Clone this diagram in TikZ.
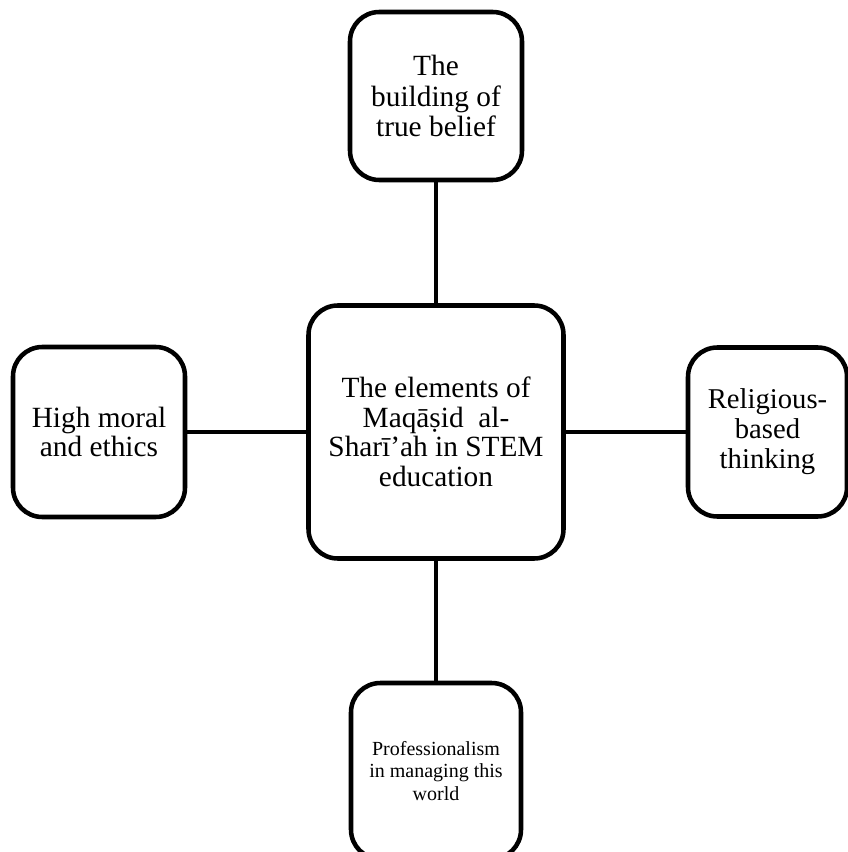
\documentclass[tikz,border=0pt]{standalone}
\usepackage{fontspec}
\setmainfont{Liberation Serif}
\usetikzlibrary{positioning}

\begin{document}
\begin{tikzpicture}[x=0.75pt, y=-0.75pt,
  box/.style={draw, line width=3.4pt, rounded corners=22pt, align=center, inner sep=0pt, fill=white},
  link/.style={line width=3.2pt},
  big/.style={font=\fontsize{22}{22.2}\selectfont}]
% canvas
\path[fill=white, use as bounding box] (0,0) rectangle (848,852);
% centre element
\node[box, big, minimum width=191.25pt, minimum height=189.75pt] (elements) at (436,432)
  {The elements of\\Maqāṣid~~al-\\Sharī’ah in STEM\\education};
% surrounding elements
\node[box, minimum width=129pt, minimum height=126pt, font=\fontsize{22}{23}\selectfont] (belief) at (436,96)
  {The\\building of\\true belief};
\node[box, big, minimum width=129pt, minimum height=127.5pt] (ethics) at (99,432)
  {High moral\\and ethics};
\node[box, minimum width=119.25pt, minimum height=126.75pt, font=\fontsize{21.5}{22.5}\selectfont] (thinking) at (767.5,432)
  {Religious-\\based\\thinking};
\node[box, minimum width=127.5pt, minimum height=132pt, font=\fontsize{15}{16.9}\selectfont] (professional) at (436,771)
  {Professionalism\\in managing this\\world};
% connectors
\draw[link] (belief) -- (elements);
\draw[link] (ethics) -- (elements);
\draw[link] (elements) -- (thinking);
\draw[link] (elements) -- (professional);
\end{tikzpicture}
\end{document}
